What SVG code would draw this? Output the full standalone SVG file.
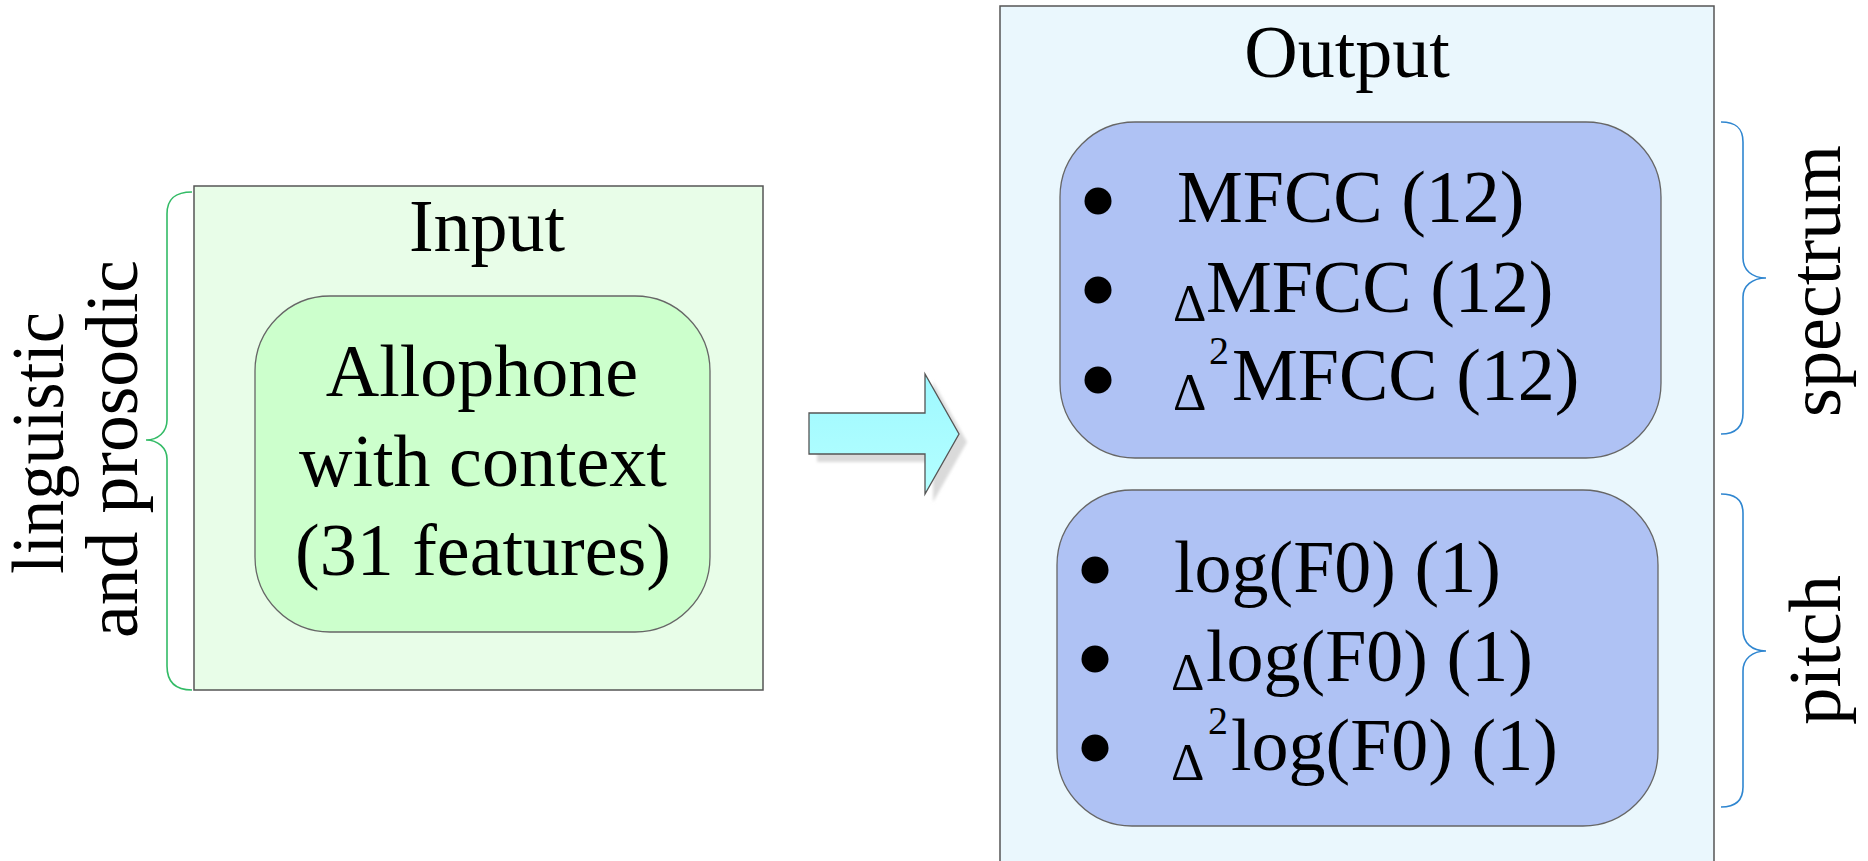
<svg xmlns="http://www.w3.org/2000/svg" width="1868" height="861" viewBox="0 0 1868 861">
  <style>
    .t { font-family: "Liberation Serif", "Times New Roman", serif; font-size: 74px; fill: #000; }
    .mid { text-anchor: middle; }
    .sub { font-size: 52px; }
    .sup { font-size: 40px; }
    .frame { stroke: #555; stroke-width: 1.5; }
    .rbox { stroke: #666; stroke-width: 1.3; }
    .brace { fill: none; stroke-width: 1.6; }
    .bullet { fill: #000; }
  </style>
  <defs>
    <linearGradient id="arrowFill" x1="0" y1="0" x2="0" y2="1">
      <stop offset="0" stop-color="#9EF8FF"/>
      <stop offset="1" stop-color="#B4FFFF"/>
    </linearGradient>
    <filter id="soft" x="-10%" y="-10%" width="130%" height="130%">
      <feGaussianBlur stdDeviation="1.5"/>
    </filter>
  </defs>

  <rect x="0" y="0" width="1868" height="861" fill="#fff"/>

  <!-- Input block -->
  <g id="input">
    <rect class="frame" x="194" y="186" width="569" height="504" fill="#E8FDE8"/>
    <text class="t mid" x="487" y="251">Input</text>
  </g>

  <g id="allophone">
    <rect class="rbox" x="255" y="296" width="455" height="336" rx="75" ry="75" fill="#CCFFCC"/>
    <text class="t mid" x="482" y="396">Allophone</text>
    <text class="t mid" x="483" y="486">with context</text>
    <text class="t mid" x="483" y="575">(31 features)</text>
  </g>

  <!-- Left label with green brace -->
  <g id="input-label">
    <path class="brace" stroke="#33BB66" d="M192,192 C176,192 167,198 167,214 L167,420 C167,432 158,440 146,440 C158,440 167,448 167,459 L167,666 C167,682 176,690 192,690"/>
    <text class="t mid" transform="translate(63,443) rotate(-90)" textLength="262" lengthAdjust="spacingAndGlyphs">linguistic</text>
    <text class="t mid" transform="translate(137,449) rotate(-90)" textLength="378" lengthAdjust="spacingAndGlyphs">and prosodic</text>
  </g>

  <!-- Connector: block arrow from input to output -->
  <g id="connectors">
    <polygon points="817,421 933,421 933,382 967,442 933,502 933,462 817,462" fill="#DADADA" filter="url(#soft)"/>
    <polygon points="809,413 925,413 925,374 959,434 925,494 925,454 809,454" fill="url(#arrowFill)" stroke="#555" stroke-width="1.3" stroke-linejoin="miter"/>
  </g>

  <!-- Output block -->
  <g id="output">
    <rect class="frame" x="1000" y="6" width="714" height="870" fill="#EAF7FD"/>
    <text class="t mid" x="1347" y="77">Output</text>
  </g>

  <g id="spectrum-features">
    <rect class="rbox" x="1060" y="122" width="601" height="336" rx="75" ry="75" fill="#AFC2F4"/>
    <circle class="bullet" cx="1098" cy="201" r="13.5"/>
    <circle class="bullet" cx="1098" cy="290" r="13.5"/>
    <circle class="bullet" cx="1098" cy="380" r="13.5"/>
    <text class="t" x="1177" y="222">MFCC (12)</text>
    <text class="t sub" x="1173" y="321">Δ</text>
    <text class="t" x="1206" y="312">MFCC (12)</text>
    <text class="t sub" x="1173" y="410">Δ</text>
    <text class="t sup" x="1209" y="364">2</text>
    <text class="t" x="1232" y="400">MFCC (12)</text>
  </g>

  <g id="pitch-features">
    <rect class="rbox" x="1057" y="490" width="601" height="336" rx="75" ry="75" fill="#AFC2F4"/>
    <circle class="bullet" cx="1095" cy="570" r="13.5"/>
    <circle class="bullet" cx="1095" cy="659" r="13.5"/>
    <circle class="bullet" cx="1095" cy="748" r="13.5"/>
    <text class="t" x="1174" y="592">log(F0) (1)</text>
    <text class="t sub" x="1171" y="690">Δ</text>
    <text class="t" x="1206" y="681">log(F0) (1)</text>
    <text class="t sub" x="1171" y="780">Δ</text>
    <text class="t sup" x="1208" y="734">2</text>
    <text class="t" x="1231" y="770">log(F0) (1)</text>
  </g>

  <!-- Right labels with blue braces -->
  <g id="spectrum-label">
    <path class="brace" stroke="#2F86D0" d="M1721,122 C1736,122 1743,128 1743,142 L1743,258 C1743,270 1752,278 1766,278 C1752,278 1743,286 1743,297 L1743,413 C1743,427 1736,434 1721,434"/>
    <text class="t mid" transform="translate(1840,281) rotate(-90)" textLength="272" lengthAdjust="spacingAndGlyphs">spectrum</text>
  </g>

  <g id="pitch-label">
    <path class="brace" stroke="#2F86D0" d="M1721,494 C1736,494 1743,500 1743,513 L1743,630 C1743,643 1752,651 1766,651 C1752,651 1743,659 1743,671 L1743,787 C1743,800 1736,807 1721,807"/>
    <text class="t mid" transform="translate(1840,650) rotate(-90)" textLength="150" lengthAdjust="spacingAndGlyphs">pitch</text>
  </g>
</svg>
